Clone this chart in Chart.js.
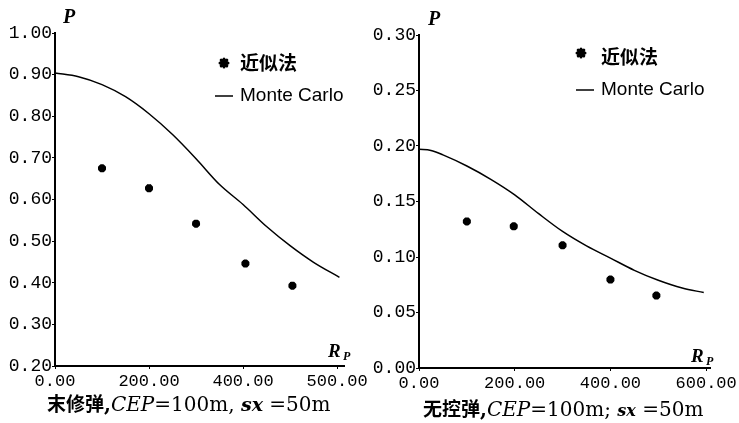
<!DOCTYPE html>
<html>
<head>
<meta charset="utf-8">
<script src="https://cdn.jsdelivr.net/npm/chart.js@4.4.0/dist/chart.umd.min.js"></script>
<style>
  html, body { margin: 0; padding: 0; background: #fff; }
  canvas { position: absolute; top: 0; }
  #left { left: 0; }
  #right { left: 370px; }
</style>
</head>
<body>
<canvas id="left" width="370" height="423"></canvas>
<canvas id="right" width="369" height="423"></canvas>
<script>
// ---- data ----
const xTicks = [0, 200, 400, 600];
const xLabelsLeft = ['0.00', '200.00', '400.00', '500.00'];
const xLabelsRight = ['0.00', '200.00', '400.00', '600.00'];
const yTicksLeft = [0.2, 0.3, 0.4, 0.5, 0.6, 0.7, 0.8, 0.9, 1.0];
const yTicksRight = [0, 0.05, 0.10, 0.15, 0.20, 0.25, 0.30];

// 末修弹
const mcLeftX = [0, 50, 100, 150, 200, 250, 300, 350, 400, 450, 500, 550, 605];
const mcLeftY = [0.904, 0.895, 0.876, 0.847, 0.806, 0.756, 0.698, 0.636, 0.588, 0.535, 0.489, 0.449, 0.413];
const apLeftX = [100, 200, 300, 405, 505];
const apLeftY = [0.675, 0.627, 0.542, 0.446, 0.393];

// 无控弹
const mcRightX = [0, 25, 50, 100, 150, 200, 250, 300, 350, 400, 450, 500, 550, 595];
const mcRightY = [0.197, 0.196, 0.192, 0.182, 0.170, 0.156, 0.139, 0.123, 0.11, 0.099, 0.088, 0.079, 0.072, 0.068];
const apRightX = [100, 198, 300, 400, 496];
const apRightY = [0.132, 0.1276, 0.1105, 0.0797, 0.0653];

const MONO = "'Liberation Mono', monospace";
const SERIF = "'DejaVu Serif', serif";
const TSERIF = "'Liberation Serif', serif";
const SANS = "'Liberation Sans', sans-serif";
const CJK = "'Noto Sans CJK SC', sans-serif";

const pts = (xs, ys) => xs.map((x, i) => ({ x, y: ys[i] }));

function star(c, x, y, r) {
  c.save();
  c.lineWidth = 3;
  c.lineCap = 'round';
  c.beginPath();
  for (let k = 0; k < 4; k++) {
    const a = k * Math.PI / 4;
    c.moveTo(x - r * Math.cos(a), y - r * Math.sin(a));
    c.lineTo(x + r * Math.cos(a), y + r * Math.sin(a));
  }
  c.stroke();
  c.restore();
}

function runs(c, list, x, y) {
  for (const [t, f] of list) {
    c.font = f;
    c.fillText(t, x, y);
    x += c.measureText(t).width;
  }
}

// labels, legend and caption drawn over the chart
const decor = {
  id: 'decor',
  afterDraw(chart, args, o) {
    const c = chart.ctx;
    const ds = chart.data.datasets;
    c.save();
    c.fillStyle = '#000';
    c.strokeStyle = '#000';
    c.textAlign = 'left';
    c.textBaseline = 'alphabetic';

    c.font = `italic bold 20px ${TSERIF}`;
    c.fillText('P', o.p[0], o.p[1]);
    c.font = `italic bold 19px ${TSERIF}`;
    c.fillText('R', o.r[0], o.r[1]);
    c.font = `italic bold 12px ${TSERIF}`;
    c.fillText('P', o.r[0] + 15, o.r[1] + 3);

    // legend
    const [lx, ly] = o.leg;
    star(c, o.star[0], o.star[1], 4);
    c.textBaseline = 'middle';
    c.font = `bold 19px ${CJK}`;
    c.fillText(ds[1].label, lx + 25, ly + 1);
    c.lineWidth = 1.5;
    c.beginPath();
    c.moveTo(lx, ly + 34);
    c.lineTo(lx + 18, ly + 34);
    c.stroke();
    c.font = `19px ${SANS}`;
    c.fillText(ds[0].label, lx + 25, ly + 34);

    // caption
    c.textBaseline = 'alphabetic';
    runs(c, o.caption, o.cap[0], o.cap[1]);
    c.restore();
  }
};

function makeChart(id, mc, ap, yTicks, xLabels, xMax, pad, axisH, yW, deco) {
  const ctx = document.getElementById(id).getContext('2d');
  return new Chart(ctx, {
    type: 'scatter',
    data: {
      datasets: [
        {
          type: 'line',
          label: 'Monte Carlo',
          data: mc,
          borderColor: '#000',
          borderWidth: 1.5,
          pointRadius: 0,
          cubicInterpolationMode: 'monotone',
          fill: false,
        },
        {
          label: '近似法',
          data: ap,
          pointStyle: 'star',
          pointRadius: 4,
          borderColor: '#000',
          backgroundColor: '#000',
          borderWidth: 3,
        },
      ],
    },
    options: {
      responsive: false,
      animation: false,
      layout: { padding: pad },
      scales: {
        x: {
          type: 'linear',
          min: 0,
          max: xMax,
          afterBuildTicks: s => { s.ticks = xTicks.map(v => ({ value: v })); },
          afterFit: s => { s.height = axisH; },
          ticks: {
            callback: (v, i) => xLabels[i],
            color: '#000',
            font: { family: MONO, size: 17 },
            padding: 2,
            maxRotation: 0,
          },
          grid: { drawOnChartArea: false, tickLength: 3, color: '#000' },
          border: { color: '#000', width: 2 },
        },
        y: {
          min: yTicks[0],
          max: yTicks[yTicks.length - 1],
          afterBuildTicks: s => { s.ticks = yTicks.map(v => ({ value: v })); },
          afterFit: s => { s.width = yW; },
          ticks: {
            callback: v => v.toFixed(2),
            color: '#000',
            font: { family: MONO, size: 18 },
            padding: 0,
          },
          grid: { drawOnChartArea: false, tickLength: 3, color: '#000' },
          border: { color: '#000', width: 2 },
        },
      },
      plugins: {
        legend: { display: false },
        tooltip: { enabled: false },
        decor: deco,
      },
    },
    plugins: [decor],
  });
}

makeChart('left', pts(mcLeftX, mcLeftY), pts(apLeftX, apLeftY), yTicksLeft, xLabelsLeft, 616,
  { top: 33, right: 12, left: 0, bottom: 0 }, 57, 55, {
    p: [63, 23],
    r: [328, 357],
    leg: [215, 62],
    star: [224, 63],
    cap: [47, 411],
    caption: [
      ['末修弹', `bold 19px ${CJK}`],
      [',', `bold 20px ${SERIF}`],
      ['CEP', `italic 20px ${SERIF}`],
      ['=100m, ', `20px ${SERIF}`],
      ['sx', `italic bold 19px ${SERIF}`],
      [' =50m', `20px ${SERIF}`],
    ],
  });

makeChart('right', pts(mcRightX, mcRightY), pts(apRightX, apRightY), yTicksRight, xLabelsRight, 609,
  { top: 35, right: 17, left: 0, bottom: 0 }, 55, 49, {
    p: [58, 25],
    r: [321, 362],
    leg: [206, 56],
    star: [211, 53],
    cap: [53, 416],
    caption: [
      ['无控弹', `bold 19px ${CJK}`],
      [',', `bold 20px ${SERIF}`],
      ['CEP', `italic 20px ${SERIF}`],
      ['=100m; ', `20px ${SERIF}`],
      ['sx', `italic bold 16px ${SERIF}`],
      [' =50m', `20px ${SERIF}`],
    ],
  });
</script>
</body>
</html>
